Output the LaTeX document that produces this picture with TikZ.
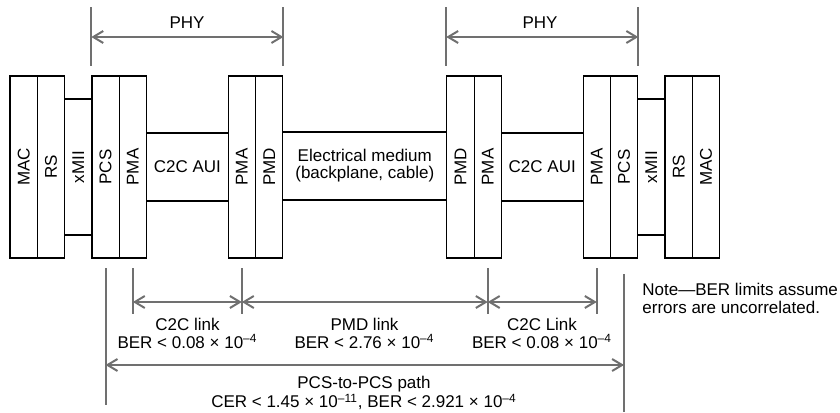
\documentclass[tikz,border=0pt]{standalone}
\usepackage{fontspec}
\setmainfont{Liberation Sans}
\usetikzlibrary{arrows.meta}
\definecolor{dimgray}{RGB}{112,112,112}
\tikzset{
  stackbox/.style={draw, line width=0.6pt, minimum width=13.65pt, minimum height=91pt, inner sep=0pt, font=\fontsize{8.5}{8.6}\selectfont},
  miibox/.style={stackbox, minimum height=68pt},
  linkbox/.style={draw, line width=0.6pt, minimum height=34pt, inner sep=0pt, align=center, font=\fontsize{8.5}{8.6}\selectfont},
  dimline/.style={draw=dimgray, line width=1pt, {Straight Barb[length=5pt,width=6pt]}-{Straight Barb[length=5pt,width=6pt]}},
  tickline/.style={draw=dimgray, line width=1pt},
  dimlabel/.style={align=center, inner sep=0pt, font=\fontsize{8.5}{8.6}\selectfont}
}
\begin{document}
\begin{tikzpicture}[x=0.5pt, y=-0.5pt]
\useasboundingbox (0,0) rectangle (840,412);
\node[stackbox] (macL) at (23.65,167) {\rotatebox{90}{MAC}};
\node[stackbox] (rsL) at (50.95,167) {\rotatebox{90}{RS}};
\node[miibox] (miiL) at (78.25,167) {\rotatebox{90}{xMII}};
\node[stackbox] (pcsL) at (105.55,167) {\rotatebox{90}{PCS}};
\node[stackbox] (pmaL) at (132.85,167) {\rotatebox{90}{PMA}};
\node[linkbox, minimum width=40.85pt] (auiL) at (187.35,167) {C2C AUI};
\node[stackbox] (pmaLb) at (241.85,167) {\rotatebox{90}{PMA}};
\node[stackbox] (pmdL) at (269.15,167) {\rotatebox{90}{PMD}};
\node[linkbox, minimum width=82pt] (medium) at (364.8,166) {Electrical medium\\(backplane, cable)};
\node[stackbox] (pmdR) at (460.45,167) {\rotatebox{90}{PMD}};
\node[stackbox] (pmaRb) at (487.75,167) {\rotatebox{90}{PMA}};
\node[linkbox, minimum width=40.85pt] (auiR) at (542.25,167) {C2C AUI};
\node[stackbox] (pmaR) at (596.75,167) {\rotatebox{90}{PMA}};
\node[stackbox] (pcsR) at (624.05,167) {\rotatebox{90}{PCS}};
\node[miibox] (miiR) at (651.35,167) {\rotatebox{90}{xMII}};
\node[stackbox] (rsR) at (678.65,167) {\rotatebox{90}{RS}};
\node[stackbox] (macR) at (705.95,167) {\rotatebox{90}{MAC}};

\coordinate (phyLa) at (pcsL.north west |- 0,7);
\coordinate (phyLb) at (pcsL.north west |- 0,66);
\coordinate (phyLc) at (pmdL.north east |- 0,7);
\coordinate (phyLd) at (pmdL.north east |- 0,66);
\coordinate (phyRa) at (pmdR.north west |- 0,7);
\coordinate (phyRb) at (pmdR.north west |- 0,66);
\coordinate (phyRc) at (pcsR.north east |- 0,7);
\coordinate (phyRd) at (pcsR.north east |- 0,66);
\draw[tickline] (phyLa) -- (phyLb);
\draw[tickline] (phyLc) -- (phyLd);
\draw[tickline] (phyRa) -- (phyRb);
\draw[tickline] (phyRc) -- (phyRd);
\draw[dimline] (pcsL.north west |- 0,37) -- (pmdL.north east |- 0,37);
\draw[dimline] (pmdR.north west |- 0,37) -- (pcsR.north east |- 0,37);
\node[dimlabel] (phyL) at (187,23) {PHY};
\node[dimlabel] (phyR) at (540,23) {PHY};

\coordinate (pathLa) at (pcsL.south |- 0,268);
\coordinate (pathLb) at (pcsL.south |- 0,405);
\coordinate (pathRa) at (pcsR.south |- 0,274);
\coordinate (pathRb) at (pcsR.south |- 0,412);
\coordinate (c2cLa) at (pmaL.south |- 0,268);
\coordinate (c2cLb) at (pmaL.south |- 0,314);
\coordinate (pmdLa) at (pmaLb.south |- 0,268);
\coordinate (pmdLb) at (pmaLb.south |- 0,314);
\coordinate (pmdRa) at (pmaRb.south |- 0,268);
\coordinate (pmdRb) at (pmaRb.south |- 0,314);
\coordinate (c2cRa) at (pmaR.south |- 0,268);
\coordinate (c2cRb) at (pmaR.south |- 0,314);
\draw[tickline] (pathLa) -- (pathLb);
\draw[tickline] (pathRa) -- (pathRb);
\draw[tickline] (c2cLa) -- (c2cLb);
\draw[tickline] (pmdLa) -- (pmdLb);
\draw[tickline] (pmdRa) -- (pmdRb);
\draw[tickline] (c2cRa) -- (c2cRb);
\draw[dimline] (pmaL.south |- 0,302) -- (pmaLb.south |- 0,302);
\draw[dimline] (pmaLb.south |- 0,302) -- (pmaRb.south |- 0,302);
\draw[dimline] (pmaRb.south |- 0,302) -- (pmaR.south |- 0,302);
\draw[dimline] (pcsL.south |- 0,365) -- (pcsR.south |- 0,365);

\node[dimlabel] (c2cL) at (187.5,333.5) {C2C link\\BER < 0.08 × 10\textsuperscript{–4}};
\node[dimlabel] (pmdlink) at (364.5,333.5) {PMD link\\BER < 2.76 × 10\textsuperscript{–4}};
\node[dimlabel] (c2cR) at (542,333.5) {C2C Link\\BER < 0.08 × 10\textsuperscript{–4}};
\node[dimlabel] (path) at (364,393) {PCS-to-PCS path\\CER < 1.45 × 10\textsuperscript{–11}, BER < 2.921 × 10\textsuperscript{–4}};
\node[dimlabel, align=left, anchor=west] (note) at (642,298.5) {Note—BER limits assume\\errors are uncorrelated.};
\end{tikzpicture}
\end{document}
